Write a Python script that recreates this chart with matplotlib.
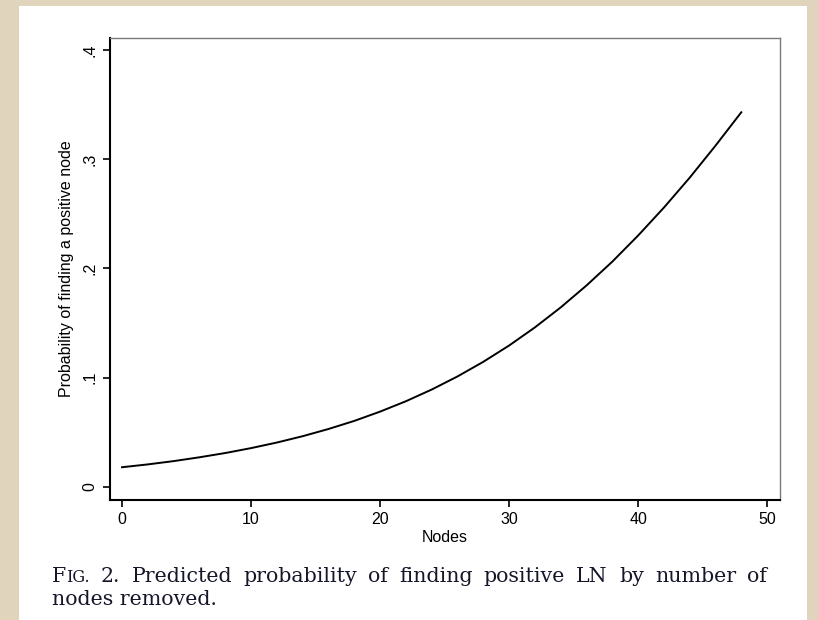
import matplotlib.pyplot as plt
from matplotlib.patches import Rectangle

# predicted probability, every 2 nodes
nodes = [0, 2, 4, 6, 8, 10, 12, 14, 16, 18, 20, 22, 24,
         26, 28, 30, 32, 34, 36, 38, 40, 42, 44, 46, 48]
prob = [0.018, 0.0206, 0.0236, 0.0271, 0.031, 0.0355, 0.0406, 0.0464,
        0.053, 0.0604, 0.0689, 0.0784, 0.0891, 0.1011, 0.1145, 0.1294,
        0.146, 0.1643, 0.1844, 0.2062, 0.2301, 0.2557, 0.2831, 0.3124, 0.343]

xticks = [0, 10, 20, 30, 40, 50]
yticks = [0, 0.1, 0.2, 0.3, 0.4]
ytick_labels = ["0", ".1", ".2", ".3", ".4"]

caption_line1 = "2. Predicted probability of finding positive LN by number of"
caption_line2 = "nodes removed."

W, H = 818, 620
fig = plt.figure(figsize=(W / 100, H / 100), dpi=100)
fig.patch.set_facecolor("#e0d5bc")
# white page behind the figure
fig.add_artist(Rectangle((19 / W, 0), 788 / W, 614 / H,
                         transform=fig.transFigure, facecolor="white",
                         edgecolor="none", zorder=-1))

ax = fig.add_axes([110 / W, 120 / H, 670 / W, 462 / H])
ax.plot(nodes, prob, color="black", linewidth=1.4)

ax.set_xlim(-0.93, 51.0)
ax.set_ylim(-0.012, 0.411)
ax.set_xticks(xticks)
ax.set_yticks(yticks)
ax.set_yticklabels(ytick_labels, rotation=90, va="center")

sans = "Liberation Sans"
for lab in ax.get_xticklabels() + ax.get_yticklabels():
    lab.set_fontfamily(sans)
    lab.set_fontsize(11.5)
ax.tick_params(direction="out", length=5, width=1.2, pad=4)

ax.set_xlabel("Nodes", fontfamily=sans, fontsize=11.5, labelpad=2)
ax.set_ylabel("Probability of finding a positive node", fontfamily=sans,
              fontsize=11.5, labelpad=6)

for side in ["left", "bottom"]:
    ax.spines[side].set_color("black")
    ax.spines[side].set_linewidth(1.5)
for side in ["top", "right"]:
    ax.spines[side].set_color("#7a7a7a")
    ax.spines[side].set_linewidth(1.0)

# caption: small caps "Fig." and a justified first line
serif = "DejaVu Serif"
cap_color = "#16162a"
cap_size = 14.8
x0, x1 = 52, 767
base1, base2 = 582, 605
renderer = fig.canvas.get_renderer()


def px_width(t):
    return t.get_window_extent(renderer).width


t_f = fig.text(x0 / W, 1 - base1 / H, "F", fontfamily=serif,
               fontsize=cap_size, color=cap_color, va="baseline")
t_ig = fig.text((x0 + px_width(t_f)) / W, 1 - base1 / H, "IG.",
                fontfamily=serif, fontsize=cap_size * 0.78, color=cap_color,
                va="baseline")
first_w = px_width(t_f) + px_width(t_ig)

words = caption_line1.split()
word_texts = [fig.text(0, 1 - base1 / H, w, fontfamily=serif,
                       fontsize=cap_size, color=cap_color, va="baseline")
              for w in words]
widths = [px_width(t) for t in word_texts]
gap = (x1 - x0 - first_w - sum(widths)) / len(words)
x = x0 + first_w + gap
for t, w in zip(word_texts, widths):
    t.set_x(x / W)
    x += w + gap

fig.text(x0 / W, 1 - base2 / H, caption_line2, fontfamily=serif,
         fontsize=cap_size, color=cap_color, va="baseline")

fig.savefig("out.png", dpi=100, facecolor=fig.get_facecolor())
plt.close(fig)
